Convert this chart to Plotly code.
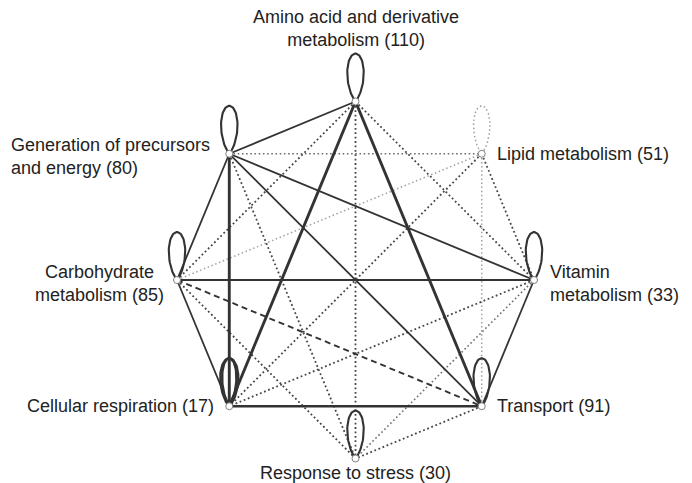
import numpy as np
import plotly.graph_objects as go

# ---------------- data ----------------
nodes = [
    "Amino acid and derivative metabolism",
    "Lipid metabolism",
    "Vitamin metabolism",
    "Transport",
    "Response to stress",
    "Cellular respiration",
    "Carbohydrate metabolism",
    "Generation of precursors and energy",
]
node_counts = [110, 51, 33, 91, 30, 17, 85, 80]
node_labels = [
    "Amino acid and derivative<br>metabolism (110)",
    "Lipid metabolism (51)",
    "Vitamin<br>metabolism (33)",
    "Transport (91)",
    "Response to stress (30)",
    "Cellular respiration (17)",
    "Carbohydrate<br>metabolism (85)",
    "Generation of precursors<br>and energy (80)",
]

A, L, V, T, S, R, C, G = range(8)
edge_source = [A, A, A, A, A, A, G, G, G, G, G, G, L, L, L, L, C, C, C, C, V, V, V, R, T,
               A, G, L, V, T, S, R, C]
edge_target = [G, R, T, C, V, S, V, T, R, C, L, S, R, V, C, T, V, T, R, S, T, R, S, T, S,
               A, G, L, V, T, S, R, C]
edge_kind = ["solid", "thick", "thick", "dot", "dot", "dot",
             "solid", "solid", "thick", "solid", "dotmid", "dot",
             "dot", "dot", "dotlight", "dotlight",
             "solid", "dash", "solid", "dot",
             "solid", "dot", "dotmid", "medium", "dot",
             "loop", "loop", "loopdot", "loop", "loop", "loop", "loopdouble", "loop"]

# ---------------- layout / style ----------------
W, H = 692, 483
PAGE_OFFSET = 8  # default page margin of the html body
cx_px, cy_px, r_px = 355.5 - PAGE_OFFSET, 280.0 - PAGE_OFFSET, 178.5
xr = [-cx_px / r_px, (W - cx_px) / r_px]
yr = [-(H - cy_px) / r_px, cy_px / r_px]

n = len(nodes)
ang = np.pi / 2 - 2 * np.pi * np.arange(n) / n
nx, ny = np.cos(ang), np.sin(ang)

styles = {
    "solid": dict(color="#333333", width=1.8, dash="solid"),
    "thick": dict(color="#333333", width=2.9, dash="solid"),
    "medium": dict(color="#333333", width=2.4, dash="solid"),
    "dot": dict(color="#474747", width=1.8, dash="1.8px,2.6px"),
    "dotmid": dict(color="#6e6e6e", width=1.6, dash="1.6px,2.6px"),
    "dotlight": dict(color="#a0a0a0", width=1.5, dash="1.5px,2.6px"),
    "dash": dict(color="#333333", width=1.9, dash="6px,4px"),
    "loop": dict(color="#333333", width=2.1, dash="solid"),
    "loopdot": dict(color="#a0a0a0", width=1.5, dash="1.5px,2.6px"),
    "loopdouble": dict(color="#333333", width=2.4, dash="solid"),
}

loop_h = 48 / r_px
phi = np.linspace(0, np.pi, 160)

fig = go.Figure()

order = {"dotlight": 0, "loopdot": 0, "dotmid": 1, "dot": 2, "dash": 3,
         "solid": 4, "medium": 5, "thick": 6, "loop": 7, "loopdouble": 7}
idx = sorted(range(len(edge_source)), key=lambda i: order[edge_kind[i]])

for i in idx:
    s, t, k = edge_source[i], edge_target[i], edge_kind[i]
    st = styles[k]
    if s == t:
        exps = [12] if k != "loopdouble" else [10, 16]
        for e in exps:
            rr = loop_h * np.sin(phi) ** e
            fig.add_trace(go.Scatter(
                x=nx[s] + rr * np.cos(phi), y=ny[s] + rr * np.sin(phi),
                mode="lines", line=st, hoverinfo="skip", showlegend=False))
    else:
        fig.add_trace(go.Scatter(
            x=[nx[s], nx[t]], y=[ny[s], ny[t]], mode="lines",
            line=st, hoverinfo="skip", showlegend=False))

fig.add_trace(go.Scatter(
    x=nx, y=ny, mode="markers", text=nodes, customdata=node_counts,
    marker=dict(size=7, color="white", line=dict(color="#808080", width=1)),
    hovertemplate="%{text} (%{customdata})<extra></extra>", showlegend=False))

# label placement per node: (xanchor, yanchor, xshift, yshift, align)
placement = [
    ("center", "bottom", 0, 50, "center"),
    ("left", "middle", 13, 0, "left"),
    ("left", "middle", 14, -3, "left"),
    ("left", "middle", 13, 0, "left"),
    ("center", "top", 0, -2, "center"),
    ("right", "middle", -13, 0, "right"),
    ("right", "middle", -11, -3, "center"),
    ("right", "middle", -17, -3, "left"),
]
for i in range(n):
    xa, ya, xs, ys, al = placement[i]
    fig.add_annotation(x=nx[i], y=ny[i], text=node_labels[i], showarrow=False,
                       xanchor=xa, yanchor=ya, xshift=xs, yshift=ys, align=al,
                       font=dict(family="Liberation Sans, Arial, sans-serif", size=18, color="#222222"))

fig.update_layout(
    width=W, height=H, margin=dict(l=0, r=0, t=0, b=0),
    paper_bgcolor="white", plot_bgcolor="white",
    xaxis=dict(range=xr, visible=False, fixedrange=True),
    yaxis=dict(range=yr, visible=False, fixedrange=True),
)

fig.write_html("out.html")
